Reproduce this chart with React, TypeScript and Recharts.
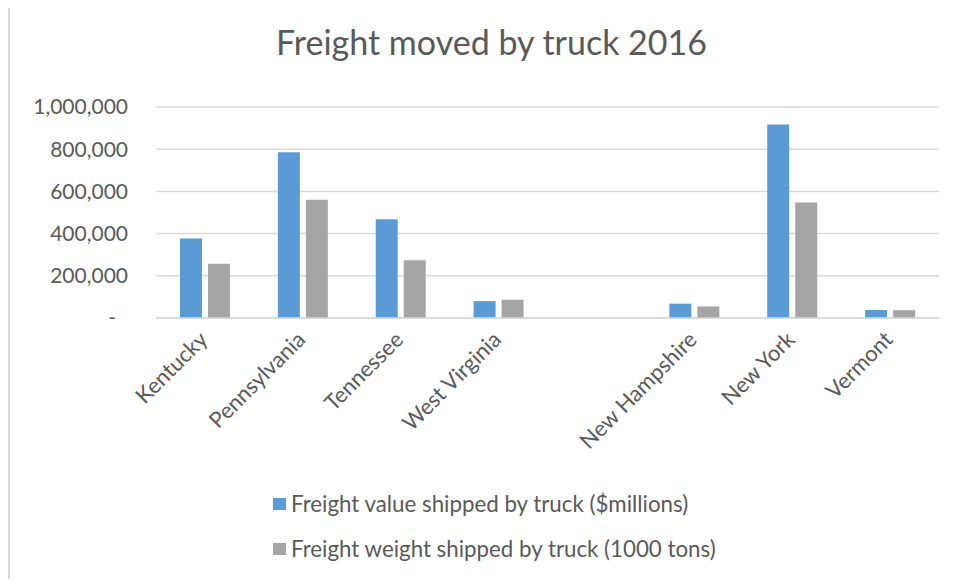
import { Bar, BarChart, CartesianGrid, Legend, XAxis, YAxis } from "recharts";

const states = [
  "Kentucky",
  "Pennsylvania",
  "Tennessee",
  "West Virginia",
  "",
  "New Hampshire",
  "New York",
  "Vermont",
];
const valueMillions = [377000, 785000, 468000, 80000, null, 68000, 917000, 38000];
const weightKTons = [257000, 561000, 274000, 87000, null, 55000, 547000, 37000];
const yTicks = [0, 200000, 400000, 600000, 800000, 1000000];

const seriesNames = {
  value: "Freight value shipped by truck ($millions)",
  weight: "Freight weight shipped by truck (1000 tons)",
};
const colors = { value: "#5b9bd5", weight: "#a5a5a5" };

const FONT = "Lato, 'Noto Sans', sans-serif";
const TEXT = "#595959";

const data = states.map((s, i) => ({
  state: s,
  value: valueMillions[i],
  weight: weightKTons[i],
}));

function YTick(props: any) {
  const { x, y, payload } = props;
  const v = payload.value as number;
  const label = v === 0 ? "-" : v.toLocaleString("en-US");
  return (
    <text
      x={v === 0 ? x - 12 : x}
      y={y}
      dy="0.35em"
      textAnchor="end"
      fill={TEXT}
      fontSize={21}
      fontFamily={FONT}
    >
      {label}
    </text>
  );
}

// rotated category label, baseline end sits just below the axis
function XTick(props: any) {
  const { x, y, payload } = props;
  const ax = x + 4;
  const ay = y + 23;
  return (
    <text
      x={ax}
      y={ay}
      transform={`rotate(-45, ${ax}, ${ay})`}
      textAnchor="end"
      fill={TEXT}
      fontSize={22}
      fontFamily={FONT}
    >
      {payload.value}
    </text>
  );
}

function LegendBox() {
  const rows = [
    { key: "value", label: seriesNames.value, color: colors.value },
    { key: "weight", label: seriesNames.weight, color: colors.weight },
  ];
  return (
    <div style={{ paddingLeft: 263, fontFamily: FONT, color: TEXT, fontSize: 22.3 }}>
      {rows.map((r) => (
        <div key={r.key} style={{ height: 45, display: "flex", alignItems: "center" }}>
          <span
            style={{
              display: "inline-block",
              width: 13,
              height: 12,
              background: r.color,
              marginRight: 5,
            }}
          />
          <span>{r.label}</span>
        </div>
      ))}
    </div>
  );
}

export default function App() {
  return (
    <div
      style={{
        position: "relative",
        width: 949,
        height: 573,
        borderTop: "2px solid #d9d9d9",
        borderLeft: "2px solid #d9d9d9",
        boxSizing: "border-box",
        marginTop: -2,
        background: "#fff",
      }}
    >
      <div
        style={{
          position: "absolute",
          left: 0,
          width: 963,
          top: 13,
          textAlign: "center",
          fontFamily: FONT,
          fontSize: 34,
          color: TEXT,
          zIndex: 2,
        }}
      >
        Freight moved by truck 2016
      </div>
      <BarChart
        width={947}
        height={571}
        data={data}
        margin={{ top: 99, right: 18, left: 0, bottom: 8 }}
        barCategoryGap="24.5%"
        barGap={6}
      >
        <CartesianGrid vertical={false} stroke="#d9d9d9" strokeWidth={1.5} />
        <XAxis
          dataKey="state"
          height={163}
          interval={0}
          axisLine={{ stroke: "#d9d9d9", strokeWidth: 1.5 }}
          tickLine={false}
          tickSize={0}
          tickMargin={0}
          tick={<XTick />}
        />
        <YAxis
          width={146}
          domain={[0, 1000000]}
          ticks={yTicks}
          axisLine={false}
          tickLine={false}
          tickSize={0}
          tickMargin={28}
          tick={<YTick />}
        />
        <Legend verticalAlign="bottom" content={<LegendBox />} />
        <Bar dataKey="value" name={seriesNames.value} fill={colors.value} isAnimationActive={false} />
        <Bar dataKey="weight" name={seriesNames.weight} fill={colors.weight} isAnimationActive={false} />
      </BarChart>
    </div>
  );
}
